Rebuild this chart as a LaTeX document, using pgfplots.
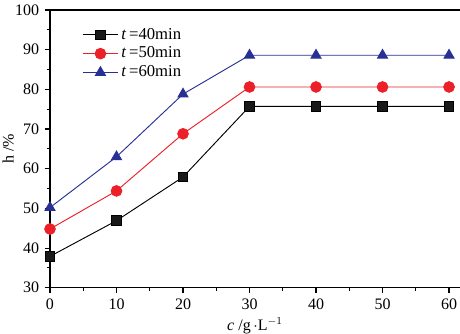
\documentclass[border=0pt]{standalone}
\usepackage{fontspec}
\setmainfont{Liberation Serif}
\usepackage{pgfplots}
\pgfplotsset{compat=1.18}
\definecolor{cred}{RGB}{236,32,40}
\definecolor{cblue}{RGB}{40,48,150}
\begin{document}
\fontsize{12pt}{14pt}\selectfont
\begin{tikzpicture}
\begin{axis}[
  name=ax,
  scale only axis,
  width=307.5pt, height=208.3pt,
  xmin=0, xmax=61.65, ymin=30, ymax=100,
  axis lines=left,
  axis line style={-, line width=1pt},
  xtick={0,10,...,60}, ytick={30,40,...,100},
  minor xtick={5,15,...,55}, minor ytick={35,45,...,95},
  tick align=outside,
  major tick length=4pt, minor tick length=2.5pt,
  tick style={black, line width=0.8pt},
  /pgf/number format/assume math mode=true,
  ticklabel style={font=\fontsize{12pt}{14pt}\selectfont},
  xlabel={\textit{c} /g\,$\cdot$L$^{-1}$},
  ylabel={h /\%},
  label style={font=\fontsize{12pt}{14pt}\selectfont},
  xlabel style={at={(axis description cs:0.5,0)}, anchor=north, yshift=-18pt},
  ylabel style={at={(axis description cs:0,0.5)}, anchor=south, yshift=23pt},
  clip=false,
  legend style={draw=none, fill=none, at={(axis description cs:0.068,0.955)}, anchor=north west,
    font=\fontsize{12.5pt}{14pt}\selectfont, row sep=0pt},
  legend cell align=left,
  legend image code/.code={\draw[mark repeat=2,mark phase=2] plot coordinates {(0cm,0cm) (0.47cm,0cm) (0.94cm,0cm)};},
  every axis plot/.append style={line width=0.7pt},
]
\addplot[black, mark=square*, mark size=3.6pt, mark options={fill=black!90}] coordinates {(0,37.9) (10,46.9) (20,57.9) (30,75.7) (40,75.7) (50,75.7) (60,75.7)};
\addlegendentry{\textit{t}\,=40min}
\addplot[cred, mark=*, mark size=4pt, mark options={fill=cred}] coordinates {(0,44.8) (10,54.4) (20,68.8) (30,80.6) (40,80.6) (50,80.6) (60,80.6)};
\addlegendentry{\textit{t}\,=50min}
\addplot[cblue, mark=triangle*, mark size=4.3pt, mark options={fill=cblue}] coordinates {(0,50.2) (10,63.0) (20,78.8) (30,88.6) (40,88.6) (50,88.6) (60,88.6)};
\addlegendentry{\textit{t}\,=60min}
\draw[line width=1pt] (rel axis cs:0,1) -- (rel axis cs:1.05,1);
\end{axis}
\pgfresetboundingbox
\path (ax.south west) ++(-37.5pt,-34pt) coordinate (bl);
\path (ax.north east) ++(0pt,7.5pt) coordinate (tr);
\path (bl) rectangle (tr);
\end{tikzpicture}
\end{document}
